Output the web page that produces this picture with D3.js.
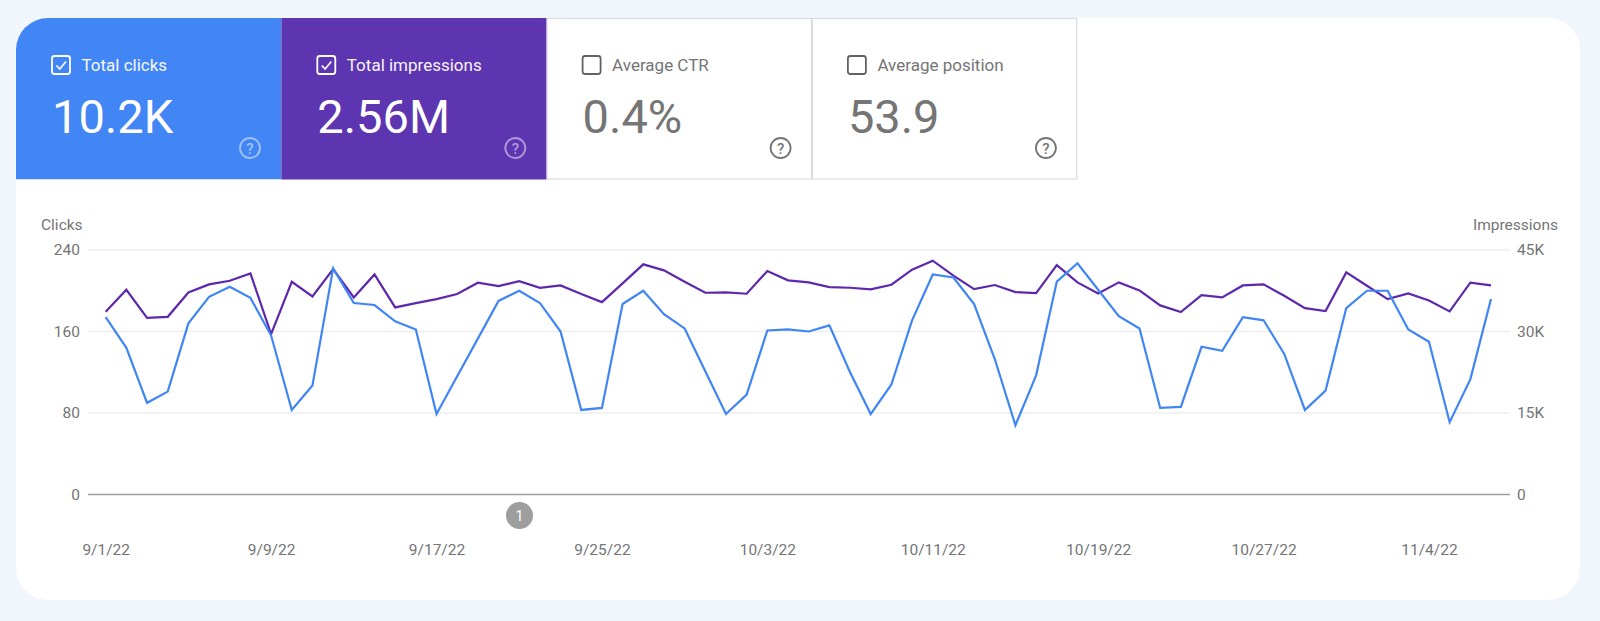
<!DOCTYPE html>
<html>
<head>
<meta charset="utf-8">
<script src="https://cdn.jsdelivr.net/npm/d3@7"></script>
<style>
html, body { margin: 0; padding: 0; background: #f1f5fc; }
svg { display: block; font-family: Roboto, sans-serif; }
</style>
</head>
<body>
<div id="chart"></div>
<script>
const firstDay = '2022-09-01'
const lastDay = '2022-11-07'
const tickLabels = ['9/1/22','9/9/22','9/17/22','9/25/22','10/3/22','10/11/22','10/19/22','10/27/22','11/4/22']
const clickTicks = [0, 80, 160, 240]
const impressionTicks = [0, 15000, 30000, 45000]

const clicks = [174,144,90,101,168,194,204,193,156,83,107,222,188,186,170,162,79,116,153,190,200,188,
  160,83,85,187,200,177,163,121,79,98,161,162,160,166,120,79,108,171,216,213,187,133,68,117,
  209,227,201,175,163,85,86,145,141,174,171,138,83,102,183,200,200,162,150,71,113,192]

const impressions = [33630,37680,32520,32700,37190,38670,39340,40700,29510,39160,36450,41500,36270,40510,34430,35230,35960,36890,38980,38360,39280,38050,
  38480,36890,35410,38850,42360,41250,39160,37130,37190,36950,41130,39410,39040,38180,38050,37750,38610,41370,43030,40270,37810,38550,37250,37070,
  42230,39040,37010,39040,37560,34800,33570,36700,36270,38480,38670,36580,34300,33750,40880,38420,35960,37010,35720,33690,38980,38480]

const tiles = [
  {label: 'Total clicks', value: '10.2K', on: true, color: '#4285f4'},
  {label: 'Total impressions', value: '2.56M', on: true, color: '#5e35b1'},
  {label: 'Average CTR', value: '0.4%', on: false, color: '#fff'},
  {label: 'Average position', value: '53.9', on: false, color: '#fff'}
]

const width = 1600
const height = 621
const tileW = 265.3
const cardX = 16, cardY = 18, cardW = 1564, cardH = 582, cardR = 32
const tileBottom = 179.5

const parse = d3.utcParse('%Y-%m-%d')
const days = d3.utcDay.range(parse(firstDay), d3.utcDay.offset(parse(lastDay), 1))
const tickDates = tickLabels.map(d3.utcParse('%-m/%-d/%y'))

const x = d3.scaleUtc().domain([days[0], days[days.length - 1]]).range([105.7, 1491])
const yLeft = d3.scaleLinear().domain([0, 240]).range([494.5, 250])
const yRight = d3.scaleLinear().domain([0, 45000]).range([494.5, 250])

const svg = d3.select('#chart').append('svg')
  .attr('width', width)
  .attr('height', height)

svg.append('rect')
  .attr('width', width).attr('height', height)
  .attr('fill', '#f1f5fc')

svg.append('rect')
  .attr('x', cardX).attr('y', cardY)
  .attr('width', cardW).attr('height', cardH)
  .attr('rx', cardR)
  .attr('fill', '#fff')

// metric tiles
svg.append('clipPath').attr('id', 'cardClip')
  .append('rect')
  .attr('x', cardX).attr('y', cardY)
  .attr('width', cardW).attr('height', cardH)
  .attr('rx', cardR)

const tile = svg.selectAll('g.tile')
  .data(tiles)
  .join('g')
  .attr('class', 'tile')
  .attr('transform', (d, i) => `translate(${cardX + i * tileW}, ${cardY})`)

tile.append('rect')
  .attr('width', tileW)
  .attr('height', tileBottom - cardY)
  .attr('fill', d => d.color)
  .attr('clip-path', `url(#tileClip)`)

svg.append('clipPath').attr('id', 'tileClip')
  .append('path')
  .attr('d', `M0,${cardR} A${cardR},${cardR} 0 0 1 ${cardR},0 H${tileW} V${tileBottom - cardY} H0 Z`)

// only the first tile has the rounded corner
tile.filter((d, i) => i > 0).select('rect').attr('clip-path', null)
tile.filter(d => !d.on).select('rect')
  .attr('x', 0.5).attr('y', 0.5)
  .attr('width', tileW - 1).attr('height', tileBottom - cardY - 1)
  .attr('stroke', '#dadce0')
  .attr('stroke-width', 1.2)

const ink = d => d.on ? '#fff' : '#757575'

tile.append('rect')
  .attr('x', 36).attr('y', 38)
  .attr('width', 18).attr('height', 18)
  .attr('rx', 2.5)
  .attr('fill', 'none')
  .attr('stroke', d => d.on ? '#fff' : '#5f6368')
  .attr('stroke-width', 1.8)

tile.filter(d => d.on).append('path')
  .attr('d', 'M40.5,47.5 L43.8,51 L50,43.5')
  .attr('fill', 'none')
  .attr('stroke', '#fff')
  .attr('stroke-width', 1.6)

tile.append('text')
  .attr('x', 65.5).attr('y', 53)
  .attr('font-size', 17)
  .attr('fill', ink)
  .attr('opacity', d => d.on ? 0.95 : 1)
  .text(d => d.label)

tile.append('text')
  .attr('x', 36).attr('y', 115)
  .attr('font-size', 47)
  .attr('fill', ink)
  .text(d => d.value)

const help = tile.append('g')
  .attr('transform', 'translate(234, 130)')
  .attr('opacity', d => d.on ? 0.5 : 1)

help.append('circle')
  .attr('r', 10)
  .attr('fill', 'none')
  .attr('stroke', d => d.on ? '#fff' : '#757575')
  .attr('stroke-width', 1.8)

help.append('text')
  .attr('text-anchor', 'middle')
  .attr('y', 5.5)
  .attr('font-size', 15)
  .attr('font-weight', 500)
  .attr('fill', d => d.on ? '#fff' : '#757575')
  .text('?')

// axes
const axisLeft = d3.axisLeft(yLeft)
  .tickValues(clickTicks)
  .tickSize(0)
  .tickPadding(0)
  .tickFormat(d3.format('d'))

const axisRight = d3.axisRight(yRight)
  .tickValues(impressionTicks)
  .tickSize(0)
  .tickPadding(0)
  .tickFormat(d => d === 0 ? '0' : (d / 1000) + 'K')

const axisBottom = d3.axisBottom(x)
  .tickValues(tickDates)
  .tickSize(0)
  .tickPadding(0)
  .tickFormat((d, i) => tickLabels[i])

svg.append('g')
  .attr('class', 'grid')
  .selectAll('line')
  .data(clickTicks)
  .join('line')
  .attr('x1', 88).attr('x2', 1510)
  .attr('y1', d => yLeft(d)).attr('y2', d => yLeft(d))
  .attr('stroke', d => d === 0 ? '#9aa0a6' : '#eeeeee')
  .attr('stroke-width', d => d === 0 ? 1.3 : 1.5)

const axes = [
  svg.append('g').attr('transform', 'translate(80, 0)').call(axisLeft),
  svg.append('g').attr('transform', 'translate(1517, 0)').call(axisRight),
  svg.append('g').attr('transform', 'translate(0, 544)').call(axisBottom)
]
axes.forEach(a => {
  a.select('.domain').remove()
  a.selectAll('text')
    .attr('fill', '#757575')
    .style('font-family', 'Roboto, sans-serif')
    .style('font-size', '15.5px')
})

svg.append('text')
  .attr('x', 41).attr('y', 230)
  .attr('font-size', 15.5)
  .attr('fill', '#757575')
  .text('Clicks')

svg.append('text')
  .attr('x', 1558).attr('y', 230)
  .attr('text-anchor', 'end')
  .attr('font-size', 15.5)
  .attr('fill', '#757575')
  .text('Impressions')

// lines
const impressionLine = d3.line()
  .x((d, i) => x(days[i]))
  .y(d => yRight(d))

const clickLine = d3.line()
  .x((d, i) => x(days[i]))
  .y(d => yLeft(d))

svg.append('path')
  .datum(impressions)
  .attr('d', impressionLine)
  .attr('fill', 'none')
  .attr('stroke', '#5e28ac')
  .attr('stroke-width', 2.2)

svg.append('path')
  .datum(clicks)
  .attr('d', clickLine)
  .attr('fill', 'none')
  .attr('stroke', '#3f86f4')
  .attr('stroke-width', 2.2)

// annotation badge
const badge = svg.append('g').attr('transform', 'translate(519.5, 515.5)')
badge.append('circle').attr('r', 13.5).attr('fill', '#9e9e9e')
badge.append('text')
  .attr('text-anchor', 'middle')
  .attr('y', 5)
  .attr('font-size', 14)
  .attr('fill', '#fff')
  .text('1')
</script>
</body>
</html>
